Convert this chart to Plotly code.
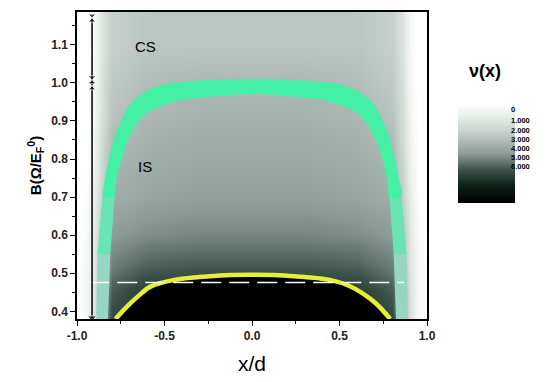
import plotly.graph_objects as go

# heatmap grid of filling factor v(x) (0 = white, 6 = black)
grid_x = [-1.0, -0.95, -0.9, -0.86, -0.8, -0.6, -0.3, 0.0, 0.3, 0.6, 0.8, 0.86, 0.9, 0.95, 1.0]
grid_b = [0.38, 0.45, 0.52, 0.6, 0.7, 0.8, 0.9, 1.0, 1.1, 1.18]
grid_v = [
    [0, 0.3, 1.2, 2.6, 4.2, 4.6, 4.6, 4.6, 4.6, 4.6, 4.2, 2.6, 1.2, 0.3, 0],
    [0, 0.3, 1.2, 2.5, 3.9, 4.4, 4.5, 4.5, 4.5, 4.4, 3.9, 2.5, 1.2, 0.3, 0],
    [0, 0.3, 1.1, 2.3, 3.4, 3.8, 3.9, 3.9, 3.9, 3.8, 3.4, 2.3, 1.1, 0.3, 0],
    [0, 0.2, 1.0, 2.0, 3.0, 3.2, 3.3, 3.3, 3.3, 3.2, 3.0, 2.0, 1.0, 0.2, 0],
    [0, 0.1, 0.8, 1.7, 2.6, 2.8, 2.9, 2.9, 2.9, 2.8, 2.6, 1.7, 0.8, 0.1, 0],
    [0, 0.0, 0.6, 1.5, 2.4, 2.6, 2.7, 2.7, 2.7, 2.6, 2.4, 1.5, 0.6, 0.0, 0],
    [0, 0.0, 0.5, 1.3, 2.1, 2.4, 2.5, 2.5, 2.5, 2.4, 2.1, 1.3, 0.5, 0.0, 0],
    [0, 0.0, 0.4, 1.2, 1.9, 2.2, 2.3, 2.3, 2.3, 2.2, 1.9, 1.2, 0.4, 0.0, 0],
    [0, 0.0, 0.3, 1.1, 1.7, 2.0, 2.0, 2.0, 2.0, 2.0, 1.7, 1.1, 0.3, 0.0, 0],
    [0, 0.0, 0.3, 1.1, 1.7, 2.0, 2.0, 2.0, 2.0, 2.0, 1.7, 1.1, 0.3, 0.0, 0],
]

# incompressible strip (green band), bright upper part
top_outer_x = [-0.855, -0.842, -0.785, -0.69, -0.55, -0.347, 0.0, 0.347, 0.55, 0.69, 0.785, 0.842, 0.855]
top_outer_b = [0.70, 0.744, 0.857, 0.948, 0.99, 1.004, 1.01, 1.004, 0.99, 0.948, 0.857, 0.744, 0.70]
top_inner_x = [-0.785, -0.775, -0.709, -0.613, -0.45, -0.309, 0.0, 0.309, 0.45, 0.613, 0.709, 0.775, 0.785]
top_inner_b = [0.70, 0.744, 0.848, 0.917, 0.95, 0.96, 0.97, 0.96, 0.95, 0.917, 0.848, 0.744, 0.70]
# fading lower parts near the left edge (right side is the mirror image)
mid_x = [-0.883, -0.855, -0.785, -0.81]
mid_b = [0.55, 0.70, 0.70, 0.55]
low_x = [-0.89, -0.883, -0.81, -0.823]
low_b = [0.38, 0.55, 0.55, 0.38]

# yellow boundary of the compressible core
yellow_x = [-0.78, -0.72, -0.65, -0.58, -0.45, -0.30, -0.15, 0.0, 0.15, 0.30, 0.45, 0.55, 0.63, 0.71, 0.79]
yellow_b = [0.38, 0.41, 0.44, 0.465, 0.482, 0.49, 0.495, 0.496, 0.495, 0.49, 0.482, 0.468, 0.448, 0.42, 0.38]

dash_b = 0.476
dash_x = [-0.93, 0.87]
arrow_x = -0.914
arrow_b = [0.383, 1.0, 1.17]

cb_ticks = ["0", "1.000", "2.000", "3.000", "4.000", "5.000", "6.000"]
cb_tick_px = [108, 120, 130, 139, 148, 157, 166]

# colorscale on -v so that v = 0 (white) sits at the top of the colour bar
colorscale = [
    [0.0, "#000000"], [0.17, "#0c2018"], [0.33, "#3a5048"], [0.5, "#8e9c98"],
    [0.67, "#bcc6c2"], [0.83, "#e0e7e3"], [1.0, "#ffffff"],
]

PL, PT, PW, PH = 77, 10, 350, 310  # plot area in pixels


def px_x(p):
    return (p - PL) / PW


def px_y(p):
    return (PT + PH - p) / PH


fig = go.Figure()
fig.add_trace(go.Heatmap(
    x=grid_x, y=grid_b, z=[[-v for v in row] for row in grid_v], zmin=-6, zmax=0, zsmooth="best",
    colorscale=colorscale, hoverinfo="skip",
    colorbar=dict(x=px_x(458), xanchor="left", xpad=0, ypad=0,
                  y=px_y(152.5), yanchor="middle", thickness=57, thicknessmode="pixels",
                  len=99, lenmode="pixels", showticklabels=False, ticks="", outlinewidth=0),
))
# black core below the yellow boundary
fig.add_trace(go.Scatter(x=yellow_x, y=yellow_b, mode="lines", fill="toself",
                         fillcolor="#000000", line=dict(width=0), hoverinfo="skip", showlegend=False))
# green band
for xs, bs, col in [(low_x, low_b, "rgb(150,215,195)"),
                    ([-v for v in low_x], low_b, "rgb(150,215,195)"),
                    (mid_x, mid_b, "rgb(105,228,180)"),
                    ([-v for v in mid_x], mid_b, "rgb(105,228,180)")]:
    fig.add_trace(go.Scatter(x=xs, y=bs, mode="lines", fill="toself", fillcolor=col,
                             line=dict(width=0), hoverinfo="skip", showlegend=False))
fig.add_trace(go.Scatter(x=top_outer_x + top_inner_x[::-1], y=top_outer_b + top_inner_b[::-1],
                         mode="lines", fill="toself", fillcolor="rgb(68,240,165)",
                         line=dict(width=0, shape="spline", smoothing=0.8), hoverinfo="skip", showlegend=False))
fig.add_trace(go.Scatter(x=yellow_x, y=yellow_b, mode="lines",
                         line=dict(color="#e4ef3c", width=4.5, shape="spline"), showlegend=False))
fig.add_trace(go.Scatter(x=dash_x, y=[dash_b, dash_b], mode="lines",
                         line=dict(color="white", width=1.5, dash="20px,8px"), showlegend=False))
fig.add_trace(go.Scatter(x=[arrow_x] * 2, y=[arrow_b[0], arrow_b[2]], mode="lines",
                         line=dict(color="black", width=1.5), showlegend=False))
fig.add_trace(go.Scatter(x=[arrow_x] * 4, y=[arrow_b[0], arrow_b[1] - 0.008, arrow_b[1] + 0.008, arrow_b[2]],
                         mode="markers",
                         marker=dict(symbol=["triangle-down", "hourglass", "hourglass", "hourglass"],
                                     size=[8, 8, 8, 8], color="black"), showlegend=False))

fig.add_annotation(x=-0.61, y=1.095, text="CS", showarrow=False,
                   font=dict(family="Liberation Sans", size=15, color="black"))
fig.add_annotation(x=-0.61, y=0.78, text="IS", showarrow=False,
                   font=dict(family="Liberation Sans", size=15, color="black"))
fig.add_annotation(xref="paper", yref="paper", x=px_x(485), y=px_y(70),
                   xanchor="center", yanchor="middle",
                   text="<b>ν(x)</b>", showarrow=False, font=dict(family="Liberation Sans", size=18, color="black"))
for t, py in zip(cb_ticks, cb_tick_px):
    fig.add_annotation(xref="paper", yref="paper", x=px_x(509), y=px_y(py),
                       xanchor="left", yanchor="middle", text="<b>" + t + "</b>", showarrow=False,
                       font=dict(family="Liberation Sans", size=7.5, color="black"))

axis_common = dict(showline=True, linecolor="black", linewidth=1.5, mirror=True, ticks="outside",
                   tickcolor="black", ticklen=5, showgrid=False, zeroline=False,
                   tickfont=dict(family="Liberation Sans", size=12, color="#222"))
fig.update_xaxes(range=[-1.0, 1.0], tickvals=[-1.0, -0.5, 0.0, 0.5, 1.0],
                 ticktext=["<b>-1.0</b>", "<b>-0.5</b>", "<b>0.0</b>", "<b>0.5</b>", "<b>1.0</b>"],
                 minor=dict(dtick=0.25, ticks="outside", ticklen=3, tickcolor="black"),
                 title=dict(text="x/d", font=dict(family="Liberation Sans", size=21, color="black"), standoff=14),
                 **axis_common)
yt = [0.4, 0.5, 0.6, 0.7, 0.8, 0.9, 1.0, 1.1]
fig.update_yaxes(range=[0.38, 1.186], tickvals=yt, ticktext=["<b>%.1f</b>" % v for v in yt],
                 minor=dict(dtick=0.05, ticks="outside", ticklen=3, tickcolor="black"),
                 title=dict(text="<b>B(Ω/E<sub>F</sub><sup>0</sup>)</b>",
                            font=dict(family="Liberation Sans", size=15, color="black"), standoff=6),
                 **axis_common)
fig.update_layout(width=550, height=382, margin=dict(l=PL, r=550 - PL - PW, t=PT, b=382 - PT - PH),
                  paper_bgcolor="white", plot_bgcolor="white", showlegend=False)
fig.write_html("out.html")
